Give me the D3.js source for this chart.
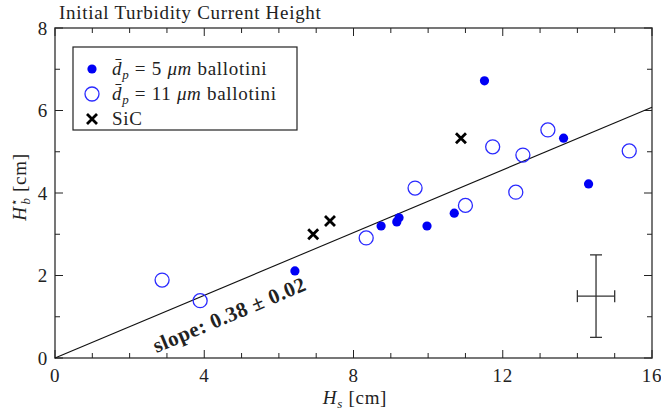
<!DOCTYPE html>
<html>
<head>
<meta charset="utf-8">
<script src="https://cdn.jsdelivr.net/npm/d3@7"></script>
<style>
  body { margin: 0; background: #fff; }
  svg text { font-family: "Liberation Serif", "Times New Roman", serif; fill: #222; letter-spacing: 0.7px; }
</style>
</head>
<body>
<svg id="chart" width="661" height="414"></svg>
<script>
// 5 um ballotini (filled)
const fineX = [6.43, 8.74, 9.16, 9.22, 9.97, 10.7, 11.51, 13.63, 14.3]
const fineY = [2.11, 3.2, 3.3, 3.4, 3.2, 3.51, 6.72, 5.33, 4.22]
// 11 um ballotini (open)
const coarseX = [2.87, 3.89, 8.34, 9.65, 11.0, 11.73, 12.35, 12.54, 13.21, 15.39]
const coarseY = [1.89, 1.39, 2.91, 4.12, 3.7, 5.12, 4.02, 4.92, 5.53, 5.02]
// SiC
const sicX = [6.92, 7.37, 10.88]
const sicY = [3.0, 3.32, 5.33]

const slope = 0.38
const xTicks = [0, 4, 8, 12, 16]
const yTicks = [0, 2, 4, 6, 8]
const errBar = {x: 14.5, y: 1.5, dx: 0.5, dy: 1.0}

const svg = d3.select('#chart')
const mLeft = 55, mRight = 652, mTop = 28, mBottom = 358
const fs = 19

const x = d3.scaleLinear().domain([0, 16]).range([mLeft, mRight])
const y = d3.scaleLinear().domain([0, 8]).range([mBottom, mTop])

// frame
svg.append('rect')
  .attr('x', mLeft).attr('y', mTop)
  .attr('width', mRight - mLeft).attr('height', mBottom - mTop)
  .attr('fill', 'none').attr('stroke', '#555').attr('stroke-width', 1.6)

// ticks on all four sides, pointing inward
const ticks = svg.append('g').attr('stroke', '#222').attr('stroke-width', 1)
d3.range(0, 17).forEach(v => {
  const len = v % 4 === 0 ? 8 : 5
  ticks.append('line').attr('x1', x(v)).attr('x2', x(v)).attr('y1', mBottom).attr('y2', mBottom - len)
  ticks.append('line').attr('x1', x(v)).attr('x2', x(v)).attr('y1', mTop).attr('y2', mTop + len)
})
d3.range(0, 9).forEach(v => {
  const len = v % 2 === 0 ? 8 : 5
  ticks.append('line').attr('y1', y(v)).attr('y2', y(v)).attr('x1', mLeft).attr('x2', mLeft + len)
  ticks.append('line').attr('y1', y(v)).attr('y2', y(v)).attr('x1', mRight).attr('x2', mRight - len)
})

svg.append('g').selectAll('text').data(xTicks).join('text')
  .attr('x', d => x(d)).attr('y', mBottom + 24)
  .attr('text-anchor', 'middle').attr('font-size', fs)
  .text(d => d)

svg.append('g').selectAll('text').data(yTicks).join('text')
  .attr('x', mLeft - 7).attr('y', d => y(d) + 6.5)
  .attr('text-anchor', 'end').attr('font-size', fs)
  .text(d => d)

// title
svg.append('text').attr('x', 59).attr('y', 19).attr('font-size', fs)
  .text('Initial Turbidity Current Height')

// axis labels
const xl = svg.append('text').attr('x', 355).attr('y', 404)
  .attr('text-anchor', 'middle').attr('font-size', fs)
xl.append('tspan').attr('font-style', 'italic').text('H')
xl.append('tspan').attr('font-style', 'italic').attr('font-size', 13).attr('dy', 4).text('s')
xl.append('tspan').attr('dy', -4).text(' [cm]')

const yl = svg.append('text')
  .attr('transform', 'translate(26,' + ((mTop + mBottom) / 2 - 6) + ') rotate(-90)')
  .attr('text-anchor', 'middle').attr('font-size', fs)
yl.append('tspan').attr('font-style', 'italic').text('H')
yl.append('tspan').attr('font-size', 12).attr('dy', -8).text('\u22c6')
yl.append('tspan').attr('font-style', 'italic').attr('font-size', 13).attr('dx', -7).attr('dy', 12).text('b')
yl.append('tspan').attr('dy', -4).text(' [cm]')

// fit line
const plot = svg.append('g')
plot.append('line')
  .attr('x1', x(0)).attr('y1', y(0))
  .attr('x2', x(16)).attr('y2', y(16 * slope))
  .attr('stroke', '#111').attr('stroke-width', 1.1)

const angle = Math.atan2(y(0) - y(16 * slope), x(16) - x(0)) * 180 / Math.PI
svg.append('text')
  .attr('transform', 'translate(' + x(2.72) + ',' + y(0.12) + ') rotate(' + (-angle) + ')')
  .attr('font-size', 21).attr('font-weight', 'bold').style('letter-spacing', '0.6px')
  .text('slope: 0.38 \u00b1 0.02')

// error bar
const eb = plot.append('g').attr('stroke', '#333').attr('stroke-width', 1.3)
eb.append('line').attr('x1', x(errBar.x)).attr('x2', x(errBar.x))
  .attr('y1', y(errBar.y - errBar.dy)).attr('y2', y(errBar.y + errBar.dy))
eb.append('line').attr('x1', x(errBar.x - errBar.dx)).attr('x2', x(errBar.x + errBar.dx))
  .attr('y1', y(errBar.y)).attr('y2', y(errBar.y))
;[errBar.y - errBar.dy, errBar.y + errBar.dy].forEach(v => {
  eb.append('line').attr('x1', x(errBar.x) - 6).attr('x2', x(errBar.x) + 6).attr('y1', y(v)).attr('y2', y(v))
})
;[errBar.x - errBar.dx, errBar.x + errBar.dx].forEach(v => {
  eb.append('line').attr('x1', x(v)).attr('x2', x(v)).attr('y1', y(errBar.y) - 6).attr('y2', y(errBar.y) + 6)
})

// markers
const drawCross = (g, cx, cy) => {
  const s = 5
  g.append('path')
    .attr('d', `M${cx - s},${cy - s}L${cx + s},${cy + s}M${cx - s},${cy + s}L${cx + s},${cy - s}`)
    .attr('stroke', '#000').attr('stroke-width', 2.8).attr('fill', 'none')
}

plot.append('g').selectAll('circle').data(d3.zip(coarseX, coarseY)).join('circle')
  .attr('cx', d => x(d[0])).attr('cy', d => y(d[1])).attr('r', 7)
  .attr('fill', 'none').attr('stroke', '#2a2aff').attr('stroke-width', 1.3)

plot.append('g').selectAll('circle').data(d3.zip(fineX, fineY)).join('circle')
  .attr('cx', d => x(d[0])).attr('cy', d => y(d[1])).attr('r', 4.6)
  .attr('fill', '#0000f5')

const sicG = plot.append('g')
d3.zip(sicX, sicY).forEach(d => drawCross(sicG, x(d[0]), y(d[1])))

// legend
const lg = svg.append('g')
lg.append('rect').attr('x', 73).attr('y', 47).attr('width', 224).attr('height', 83)
  .attr('fill', '#fff').attr('stroke', '#222').attr('stroke-width', 1.2)
lg.append('circle').attr('cx', 92).attr('cy', 69).attr('r', 4.6).attr('fill', '#0000f5')
lg.append('circle').attr('cx', 92).attr('cy', 94).attr('r', 7)
  .attr('fill', 'none').attr('stroke', '#2a2aff').attr('stroke-width', 1.3)
drawCross(lg, 92, 119)

const legendLabel = (yy, num) => {
  const t = lg.append('text').attr('x', 112).attr('y', yy).attr('font-size', fs)
  t.append('tspan').attr('font-style', 'italic').text('d\u0304')
  t.append('tspan').attr('font-style', 'italic').attr('font-size', 13).attr('dy', 4).text('p')
  t.append('tspan').attr('dy', -4).text(' = ' + num + ' ')
  t.append('tspan').attr('font-style', 'italic').text('\u03bcm')
  t.append('tspan').text(' ballotini')
}
legendLabel(75, 5)
legendLabel(100, 11)
lg.append('text').attr('x', 112).attr('y', 125).attr('font-size', fs).text('SiC')
</script>
</body>
</html>
